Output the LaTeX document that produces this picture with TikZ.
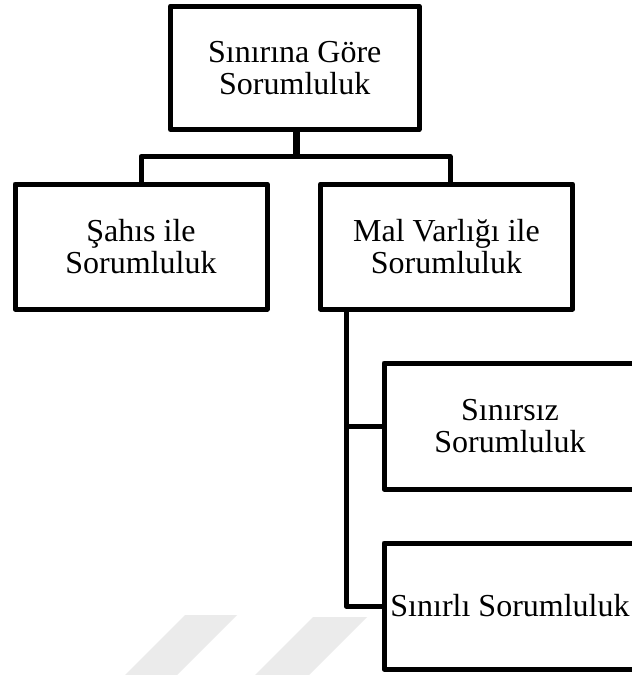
\documentclass[tikz,border=0pt]{standalone}
\usepackage{fontspec}
\setmainfont{Liberation Serif}
\begin{document}
\begin{tikzpicture}[x=1pt,y=-1pt,
  box/.style={draw=black,line width=5pt,line join=round,fill=white,
    minimum width=252pt,minimum height=125pt,align=center,inner sep=0pt,
    font=\fontsize{32}{32}\selectfont},
  link/.style={draw=black,line width=5pt,line join=round},
  wm/.style={fill=black!8,draw=none}]
\clip (0,0) rectangle (632,675);
\fill[white] (0,0) rectangle (632,675);
% faint watermark stripes
\fill[wm] (185,615) -- (237,615) -- (177,675) -- (125,675) -- cycle;
\fill[wm] (313,617) -- (367,617) -- (309,675) -- (255,675) -- cycle;
% nodes
\node[box,minimum width=248.5pt,minimum height=123.5pt] (top) at (294.75,67.75) {Sınırına Göre\\Sorumluluk};
\node[box] (l) at (141,246.5) {Şahıs ile\\Sorumluluk};
\node[box] (r) at (446.5,246.5) {Mal Varlığı ile\\Sorumluluk};
\node[box,minimum height=126pt] (b3) at (510,426) {Sınırsız\\Sorumluluk};
\node[box,minimum height=126pt] (b4) at (510,606) {Sınırlı Sorumluluk};
% connectors
\coordinate (bus) at (296,156.5);
\coordinate (rt) at (450,184);
\coordinate (rv) at (346,309);
\draw[link,line width=7pt] (top.south -| bus) -- (bus);
\draw[link] (l.north) |- (bus) -| (rt);
\draw[link] (rv) |- (b3.west);
\draw[link] (rv) |- (b4.west);
\end{tikzpicture}
\end{document}
